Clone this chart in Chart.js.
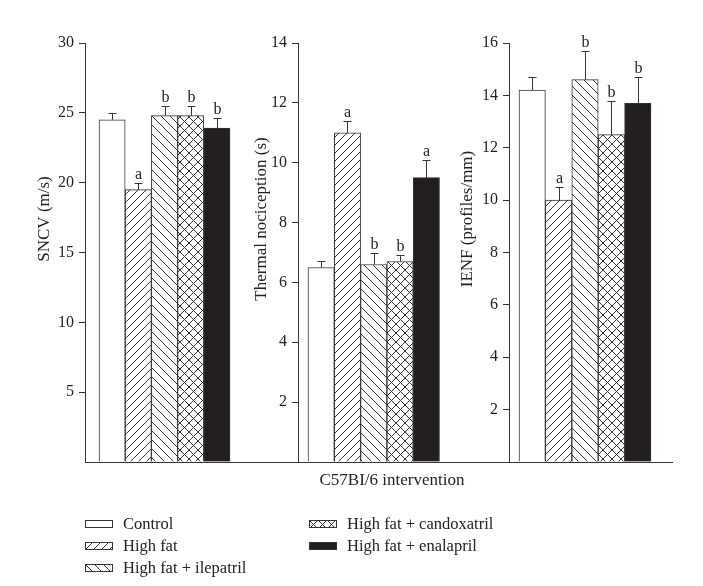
<!DOCTYPE html>
<html>
<head>
<meta charset="utf-8">
<script src="https://cdn.jsdelivr.net/npm/chart.js@4.4.1/dist/chart.umd.min.js"></script>
<style>
  body { margin: 0; background: #fff; }
  #wrap { position: relative; width: 703px; height: 586px; font-family: "Liberation Serif", serif; color: #222; }
  #wrap canvas.panel { position: absolute; left: 0; top: 0; }
  .xtitle { position: absolute; left: 392px; top: 480px; transform: translate(-50%, -50%); font-size: 17px; white-space: nowrap; }
  .leg { position: absolute; height: 20px; display: flex; align-items: center; font-size: 16.5px; white-space: nowrap; transform: translateY(-50%); }
  .leg canvas { margin-right: 10px; }
</style>
</head>
<body>
<div id="wrap">
  <canvas class="panel" id="chart1" width="703" height="586"></canvas>
  <canvas class="panel" id="chart2" width="703" height="586"></canvas>
  <canvas class="panel" id="chart3" width="703" height="586"></canvas>
  <div class="xtitle">C57BI/6 intervention</div>
  <div id="legend"></div>
</div>
<script>
// data
const groups = ["Control", "High fat", "High fat + ilepatril", "High fat + candoxatril", "High fat + enalapril"];

const sncv = [24.5, 19.5, 24.8, 24.8, 23.9];
const sncvErr = [0.5, 0.5, 0.7, 0.7, 0.7];
const sncvSig = ["", "a", "b", "b", "b"];

const thermal = [6.5, 11.0, 6.6, 6.7, 9.5];
const thermalErr = [0.2, 0.4, 0.4, 0.2, 0.6];
const thermalSig = ["", "a", "b", "b", "a"];

const ienf = [14.2, 10.0, 14.6, 12.5, 13.7];
const ienfErr = [0.5, 0.5, 1.1, 1.3, 1.0];
const ienfSig = ["", "a", "b", "b", "b"];

const INK = "#333";
const FONT = "Liberation Serif";

// hatch fills
function hatch(kind) {
  if (kind === "white") return "#fff";
  if (kind === "black") return "#231f20";
  const s = kind === "/" ? 8 : 9;
  const c = document.createElement("canvas");
  c.width = s;
  c.height = s;
  const g = c.getContext("2d");
  g.fillStyle = "#fff";
  g.fillRect(0, 0, s, s);
  g.strokeStyle = INK;
  g.lineWidth = 1;
  g.beginPath();
  if (kind === "/" || kind === "x") {
    g.moveTo(-1, s + 1); g.lineTo(s + 1, -1);
    g.moveTo(-1, 1); g.lineTo(1, -1);
    g.moveTo(s - 1, s + 1); g.lineTo(s + 1, s - 1);
  }
  if (kind === "\\" || kind === "x") {
    g.moveTo(-1, -1); g.lineTo(s + 1, s + 1);
    g.moveTo(s - 1, -1); g.lineTo(s + 1, 1);
    g.moveTo(-1, s - 1); g.lineTo(1, s + 1);
  }
  g.stroke();
  return g.createPattern(c, "repeat");
}
const fills = ["white", "/", "\\", "x", "black"].map(hatch);

// error bars + letters
const errorBars = {
  id: "errorBars",
  afterDatasetsDraw(chart, args, opts) {
    const ctx = chart.ctx;
    const y = chart.scales.y;
    const meta = chart.getDatasetMeta(0);
    ctx.save();
    ctx.strokeStyle = INK;
    ctx.lineWidth = 1;
    ctx.fillStyle = "#222";
    ctx.font = "16px " + FONT;
    ctx.textAlign = "center";
    ctx.textBaseline = "bottom";
    meta.data.forEach(function (bar, i) {
      const v = chart.data.datasets[0].data[i].y;
      const top = Math.round(y.getPixelForValue(v + opts.err[i])) + 0.5;
      const x = Math.round(bar.x) + 0.5;
      ctx.beginPath();
      ctx.moveTo(x, bar.y);
      ctx.lineTo(x, top);
      ctx.moveTo(x - 4, top);
      ctx.lineTo(x + 4, top);
      ctx.stroke();
      if (opts.sig[i]) ctx.fillText(opts.sig[i], x, top - 1);
    });
    ctx.restore();
  },
};

// rotated y title, placed a bit above the axis middle like the figure
const yTitle = {
  id: "yTitle",
  afterDraw(chart, args, opts) {
    const ctx = chart.ctx;
    const a = chart.chartArea;
    ctx.save();
    ctx.translate(a.left - opts.offset, a.top + (a.bottom - a.top) * 0.42);
    ctx.rotate(-Math.PI / 2);
    ctx.fillStyle = "#222";
    ctx.font = "17px " + FONT;
    ctx.textAlign = "center";
    ctx.textBaseline = "middle";
    ctx.fillText(opts.text, 0, 0);
    ctx.restore();
  },
};

// panel layout in page pixels: plot area left/right, first bar left edge, bar width
function panel(id, values, errs, sigs, yMax, step, title, box) {
  const yw = 50;
  const xmin = -(box.firstBar - box.left) / box.barW - 0.5;
  const xmax = xmin + (box.right - box.left) / box.barW;
  new Chart(document.getElementById(id), {
    type: "bar",
    data: {
      datasets: [
        {
          label: title,
          data: values.map(function (v, i) { return { x: i, y: v }; }),
          backgroundColor: fills,
          borderColor: INK,
          borderWidth: 1,
          barThickness: box.barW,
        },
      ],
    },
    options: {
      responsive: false,
      animation: false,
      events: [],
      layout: {
        padding: { left: box.left - yw, right: 703 - box.right, top: 43, bottom: 586 - 462 },
      },
      plugins: {
        legend: { display: false },
        tooltip: { enabled: false },
        errorBars: { err: errs, sig: sigs },
        yTitle: { text: title, offset: box.titleOff },
      },
      scales: {
        x: {
          type: "linear",
          offset: false,
          min: xmin,
          max: xmax,
          ticks: { display: false },
          grid: { display: false, offset: false },
          border: { display: true, color: INK, width: 1 },
          afterFit: function (s) { s.height = 0; },
        },
        y: {
          min: 0,
          max: yMax,
          ticks: {
            stepSize: step,
            padding: 5,
            color: "#222",
            font: { family: FONT, size: 16 },
            callback: function (v) { return v === 0 ? "" : v; },
          },
          grid: {
            drawOnChartArea: false,
            tickLength: 6,
            tickColor: function (c) { return c.tick && c.tick.value === 0 ? "rgba(0,0,0,0)" : INK; },
          },
          border: { display: true, color: INK, width: 1 },
          afterFit: function (s) { s.width = yw; },
        },
      },
    },
    plugins: [errorBars, yTitle],
  });
}

// #CHART
panel("chart1", sncv, sncvErr, sncvSig, 30, 5, "SNCV (m/s)",
  { left: 85, right: 298, firstBar: 99, barW: 26.2, titleOff: 40 });
panel("chart2", thermal, thermalErr, thermalSig, 14, 2, "Thermal nociception (s)",
  { left: 298, right: 509, firstBar: 308, barW: 26.3, titleOff: 36 });
panel("chart3", ienf, ienfErr, ienfSig, 16, 2, "IENF (profiles/mm)",
  { left: 509, right: 672, firstBar: 519, barW: 26.4, titleOff: 41 });

// legend, two columns like the figure
const legendPos = [
  [85, 524], [85, 546], [85, 568],
  [309, 524], [309, 546],
];
const legend = document.getElementById("legend");
groups.forEach(function (name, i) {
  const row = document.createElement("div");
  row.className = "leg";
  row.style.left = legendPos[i][0] + "px";
  row.style.top = legendPos[i][1] + "px";
  const sw = document.createElement("canvas");
  sw.width = 28;
  sw.height = 8;
  const g = sw.getContext("2d");
  g.fillStyle = fills[i];
  g.fillRect(0, 0, 28, 8);
  g.strokeStyle = INK;
  g.strokeRect(0.5, 0.5, 27, 7);
  row.appendChild(sw);
  row.appendChild(document.createTextNode(name));
  legend.appendChild(row);
});
</script>
</body>
</html>
